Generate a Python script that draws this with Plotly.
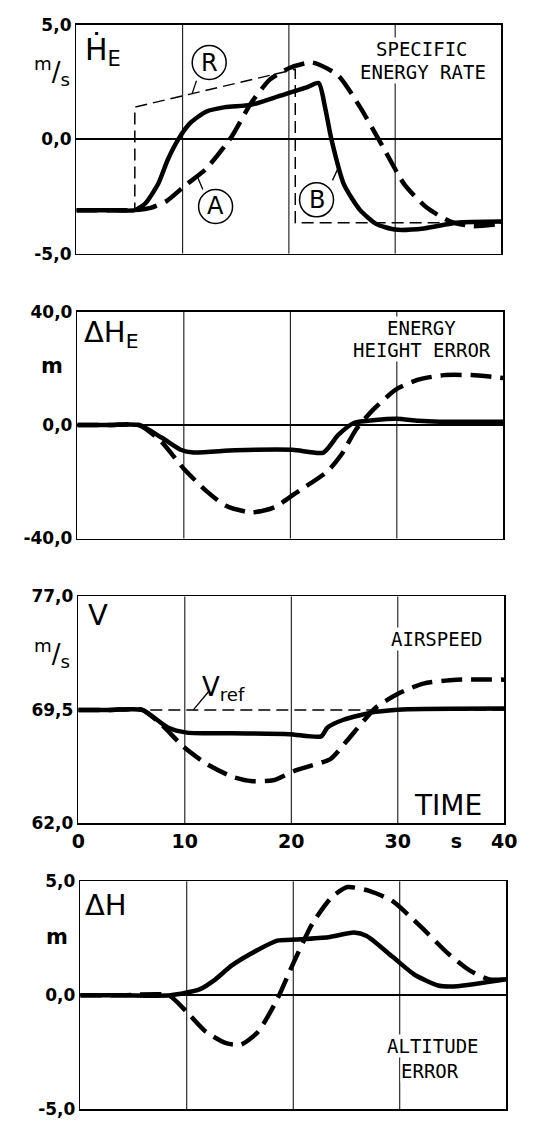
import plotly.graph_objects as go

# ---------------- data ----------------
# Panel 1: specific energy rate  dH_E/dt  [m/s]
t_rate_solid = [0, 3.0, 5.5, 6.5, 7.7, 8.6, 9.6, 10.7, 12.2, 14.0, 16.4, 19.2, 21.6, 22.8, 23.4, 24.0, 25.2, 26.7, 28.2, 30.0, 32.7, 35.8, 40]
rate_solid = [-3.1, -3.1, -3.1, -2.8, -1.95, -0.9, 0.0, 0.7, 1.2, 1.4, 1.5, 1.9, 2.25, 2.45, 1.4, 0.0, -2.0, -3.1, -3.7, -3.95, -3.9, -3.65, -3.6]
t_rate_dash = [0, 3.0, 5.5, 7.0, 8.5, 10.3, 12.2, 14.6, 16.4, 18.2, 20.0, 22.2, 24.6, 26.7, 28.8, 30.9, 33.0, 35.2, 37.3, 40]
rate_dash = [-3.1, -3.1, -3.1, -3.0, -2.7, -2.0, -1.3, 0.1, 1.55, 2.6, 3.1, 3.35, 2.8, 1.4, -0.3, -2.0, -3.0, -3.6, -3.8, -3.7]
t_rate_ref = [0, 5.5, 5.5, 20.6, 20.6, 40]
rate_ref = [-3.1, -3.1, 1.4, 3.05, -3.65, -3.65]

# Panel 2: energy height error  dH_E [m]
t_eh_solid = [0, 3.0, 5.8, 7.9, 9.7, 10.9, 14.8, 20.2, 23.1, 24.5, 26.0, 28.0, 30.0, 32.0, 34.0, 40]
eh_solid = [0, 0, 0, -4.4, -8.7, -9.7, -8.9, -8.7, -9.7, -3.5, 0.8, 1.8, 2.2, 1.5, 1.2, 1.2]
t_eh_dash = [0, 3.0, 5.8, 7.9, 9.95, 12.1, 13.9, 16.3, 18.5, 20.5, 23.5, 24.8, 26.2, 27.8, 29.9, 32.0, 34.4, 37.0, 40]
eh_dash = [0, 0, 0, -5.9, -15.2, -23.2, -28.4, -30.8, -29.0, -24.0, -16.3, -10.4, -1.4, 5.5, 12.5, 16.0, 17.6, 17.6, 16.6]

# Panel 3: airspeed V [m/s]
t_v_solid = [0, 3.0, 6.0, 8.4, 10.2, 14.4, 19.8, 22.8, 23.4, 24.9, 27.9, 30.9, 40]
v_solid = [69.5, 69.5, 69.5, 68.34, 68.0, 67.95, 67.9, 67.75, 68.34, 68.85, 69.37, 69.55, 69.6]
t_v_dash = [0, 3.0, 6.0, 7.8, 9.9, 12.0, 14.4, 16.2, 18.3, 20.4, 23.7, 25.2, 27.9, 30.1, 32.4, 35.5, 40]
v_dash = [69.5, 69.5, 69.5, 68.53, 67.05, 65.95, 65.1, 64.8, 64.85, 65.5, 66.27, 67.44, 69.63, 70.6, 71.24, 71.5, 71.5]
t_v_ref = [0, 40]
v_ref = [69.5, 69.5]

# Panel 4: altitude error dH [m]
t_alt_solid = [0, 4.0, 8.5, 11.2, 12.7, 14.2, 16.7, 18.5, 20.3, 23.3, 25.7, 26.9, 29.3, 31.4, 33.6, 35.4, 40]
alt_solid = [0, 0, 0, 0.26, 0.7, 1.3, 2.0, 2.4, 2.45, 2.55, 2.75, 2.6, 1.7, 0.9, 0.43, 0.4, 0.7]
t_alt_dash = [0, 4.0, 8.3, 10.0, 11.8, 13.7, 15.1, 16.7, 18.5, 20.0, 21.8, 23.6, 25.1, 27.2, 29.3, 32.0, 34.5, 36.6, 38.4, 40]
alt_dash = [0, 0, 0, -0.73, -1.6, -2.1, -2.16, -1.6, -0.17, 1.4, 3.15, 4.3, 4.75, 4.57, 4.14, 3.0, 1.85, 1.08, 0.7, 0.7]

# axis ticks
x_tickvals = [0, 10, 20, 30, 35.5, 40]
x_ticktext = ["0", "10", "20", "30", "s", "40"]
y_ticks = [
    ([-5, 0, 5], ["-5,0", "0,0", "5,0"], [-5, 5]),
    ([-40, 0, 40], ["-40,0", "0,0", "40,0"], [-40, 40]),
    ([62, 69.5, 77], ["62,0", "69,5", "77,0"], [62, 77]),
    ([-5, 0, 5], ["-5,0", "0,0", "5,0"], [-5, 5]),
]
grid_x = [10, 20, 30]

# ---------------- layout geometry (pixels) ----------------
W, H = 552, 1133
panel_px = [((72, 513), (15, 248)), ((73, 515), (307, 538)),
            ((74, 516), (597, 828)), ((76, 518), (887, 1119))]


def px_x(p):
    return p / W


def px_y(p):
    return 1 - p / H


BLACK = "black"
THICK = 4.5
DASH = "21px,9px"
THIN_DASH = "12px,6px"

fig = go.Figure()


def axes_of(i):
    return ("x" if i == 1 else f"x{i}", "y" if i == 1 else f"y{i}")


def add(x, y, i, dash=None, width=THICK):
    xa, ya = axes_of(i)
    fig.add_trace(go.Scatter(
        x=x, y=y, mode="lines", xaxis=xa, yaxis=ya,
        line=dict(color=BLACK, width=width, dash=dash, shape="spline", smoothing=0.6),
        showlegend=False, hoverinfo="skip"))


def add_lin(x, y, i, dash=None, width=THICK):
    xa, ya = axes_of(i)
    fig.add_trace(go.Scatter(
        x=x, y=y, mode="lines", xaxis=xa, yaxis=ya,
        line=dict(color=BLACK, width=width, dash=dash),
        showlegend=False, hoverinfo="skip"))


add_lin(t_rate_ref, rate_ref, 1, dash=THIN_DASH, width=1.5)
add(t_rate_dash, rate_dash, 1, dash=DASH)
add(t_rate_solid, rate_solid, 1)

add(t_eh_dash, eh_dash, 2, dash=DASH)
add(t_eh_solid, eh_solid, 2)

add_lin(t_v_ref, v_ref, 3, dash=THIN_DASH, width=1.5)
add(t_v_dash, v_dash, 3, dash=DASH)
add(t_v_solid, v_solid, 3)

add(t_alt_dash, alt_dash, 4, dash=DASH)
add(t_alt_solid, alt_solid, 4)

tick_font = dict(family="DejaVu Sans", size=17, color=BLACK, weight="bold")
layout = dict(width=W, height=H, margin=dict(l=0, r=0, t=0, b=0, pad=0),
              paper_bgcolor="white", plot_bgcolor="white", showlegend=False)

shapes = []
for i, ((xl, xr), (yt, yb)) in enumerate(panel_px, start=1):
    sfx = "" if i == 1 else str(i)
    tv, tt, rng = y_ticks[i - 1]
    layout[f"xaxis{sfx}"] = dict(
        domain=[px_x(xl), px_x(xr)], range=[0, 40], anchor=f"y{sfx}",
        showgrid=False, zeroline=False, showline=True, mirror=True,
        linecolor=BLACK, linewidth=1.5, ticks="",
        showticklabels=(i == 3), tickvals=x_tickvals, ticktext=x_ticktext,
        tickfont=dict(family="DejaVu Sans", size=19, color=BLACK, weight="bold"),
        fixedrange=True)
    layout[f"yaxis{sfx}"] = dict(
        domain=[px_y(yb), px_y(yt)], range=rng, anchor=f"x{sfx}",
        showgrid=False, zeroline=(i != 3), zerolinecolor=BLACK, zerolinewidth=2,
        showline=True, mirror=True, linecolor=BLACK, linewidth=1.5, ticks="",
        tickvals=tv, ticktext=tt, tickfont=tick_font, fixedrange=True)
    for gx in grid_x:
        shapes.append(dict(type="line", xref=f"x{sfx}", yref=f"y{sfx} domain",
                           x0=gx, x1=gx, y0=0, y1=1, layer="below",
                           line=dict(color=BLACK, width=1)))

# leader lines for circled labels and V_ref
leaders = [
    (1, 11.3, 2.55, 10.9, 2.0),    # R
    (1, 11.9, -2.2, 11.4, -1.65),  # A
    (1, 24.1, -1.8, 24.7, -1.2),   # B
    (3, 12.3, 70.77, 10.8, 69.5),  # V_ref
]
for i, x0, y0, x1, y1 in leaders:
    xa, ya = axes_of(i)
    shapes.append(dict(type="line", xref=xa, yref=ya,
                       x0=x0, y0=y0, x1=x1, y1=y1, layer="above",
                       line=dict(color=BLACK, width=1.3)))

circles = [("R", 12.5, 3.35), ("A", 13.1, -2.94), ("B", 22.6, -2.65)]
R_PX = 17
for lab, cx, cy in circles:
    shapes.append(dict(type="circle", xref="x", yref="y", xsizemode="pixel",
                       ysizemode="pixel", xanchor=cx, yanchor=cy,
                       x0=-R_PX, x1=R_PX, y0=-R_PX, y1=R_PX, layer="above",
                       fillcolor="white", line=dict(color=BLACK, width=1.5)))
layout["shapes"] = shapes

ann = []


def note(text, x, y, i=None, size=19, family="DejaVu Sans Mono", xanchor="center",
         bg=None, weight="normal"):
    d = dict(text=text, x=x, y=y, showarrow=False, xanchor=xanchor, yanchor="middle",
             font=dict(family=family, size=size, color=BLACK, weight=weight))
    if i is None:
        d.update(xref="paper", yref="paper")
    else:
        xa, ya = axes_of(i)
        d.update(xref=xa, yref=ya)
    if bg:
        d.update(bgcolor=bg, borderpad=0)
    ann.append(d)


for lab, cx, cy in circles:
    note(lab, cx, cy, 1, size=24, family="DejaVu Sans")

# panel 1
note("Ḣ<sub>E</sub>", 0.6, 3.85, 1, size=30, family="DejaVu Sans", xanchor="left")
note("<sup>m</sup>/<sub>s</sub>", px_x(47), px_y(63), None, size=26, family="DejaVu Sans")
note("SPECIFIC", 32.5, 3.95, 1, size=19, bg="white")
note("ENERGY RATE", 32.6, 2.95, 1, size=19, bg="white")
# panel 2
note("ΔH<sub>E</sub>", 0.4, 32.0, 2, size=29, family="DejaVu Sans", xanchor="left")
note("m", px_x(47), px_y(362), None, size=21, family="DejaVu Sans", weight="bold")
note("ENERGY", 32.3, 34.3, 2, size=19, bg="white")
note("HEIGHT ERROR", 32.4, 26.3, 2, size=19, bg="white")
# panel 3
note("V", 0.7, 75.8, 3, size=29, family="DejaVu Sans", xanchor="left")
note("<sup>m</sup>/<sub>s</sub>", px_x(47), px_y(655), None, size=26, family="DejaVu Sans")
note("AIRSPEED", 33.7, 74.2, 3, size=19, bg="white")
note("V<sub>ref</sub>", 11.4, 70.9, 3, size=26, family="DejaVu Sans", xanchor="left")
note("TIME", 34.7, 63.2, 3, size=28, family="DejaVu Sans")
# panel 4
note("ΔH", 0.3, 3.95, 4, size=29, family="DejaVu Sans", xanchor="left")
note("m", px_x(52), px_y(944), None, size=21, family="DejaVu Sans", weight="bold")
note("ALTITUDE", 33.1, -2.24, 4, size=19, bg="white")
note("ERROR", 32.8, -3.32, 4, size=19, bg="white")

layout["annotations"] = ann
fig.update_layout(**layout)
fig.write_html("out.html", config={"displayModeBar": False, "staticPlot": True},
               post_script="document.body.style.margin='0px';document.body.style.overflow='hidden';")
